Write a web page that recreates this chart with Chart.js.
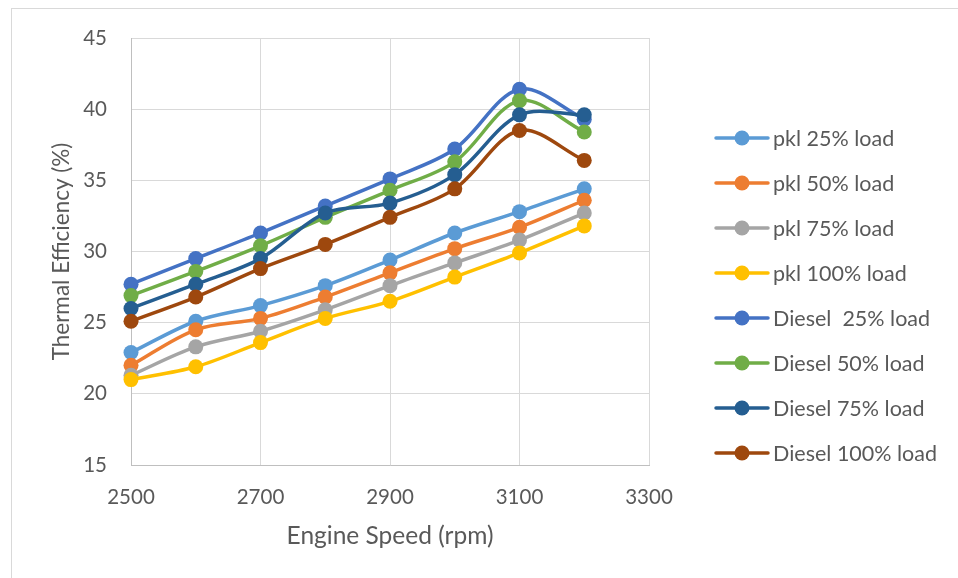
<!DOCTYPE html>
<html>
<head>
<meta charset="utf-8">
<script src="https://cdn.jsdelivr.net/npm/chart.js@4/dist/chart.umd.min.js"></script>
<style>
  body { margin: 0; background: #fff; }
  #wrap { position: relative; width: 958px; height: 578px; overflow: hidden; }
  #frame { position: absolute; left: 11px; top: 8px; width: 1000px; height: 700px; border: 1px solid #d9d9d9; }
  canvas { position: absolute; left: 0; top: 0; }
</style>
</head>
<body>
<div id="wrap">
  <div id="frame"></div>
  <canvas id="chart" width="958" height="578"></canvas>
</div>
<script>
const speeds = [2500, 2600, 2700, 2800, 2900, 3000, 3100, 3200];

const pkl25 = [22.9, 25.1, 26.2, 27.6, 29.4, 31.3, 32.8, 34.4];
const pkl50 = [22.0, 24.5, 25.3, 26.8, 28.5, 30.2, 31.7, 33.6];
const pkl75 = [21.3, 23.3, 24.4, 25.9, 27.6, 29.2, 30.8, 32.7];
const pkl100 = [21.0, 21.9, 23.6, 25.3, 26.5, 28.2, 29.9, 31.8];
const diesel25 = [27.7, 29.5, 31.3, 33.2, 35.1, 37.2, 41.4, 39.3];
const diesel50 = [26.9, 28.6, 30.4, 32.4, 34.3, 36.3, 40.6, 38.4];
const diesel75 = [26.0, 27.7, 29.5, 32.7, 33.4, 35.4, 39.6, 39.6];
const diesel100 = [25.1, 26.8, 28.8, 30.5, 32.4, 34.4, 38.5, 36.4];

const seriesNames = ['pkl 25% load', 'pkl 50% load', 'pkl 75% load', 'pkl 100% load',
  'Diesel  25% load', 'Diesel 50% load', 'Diesel 75% load', 'Diesel 100% load'];
const seriesValues = [pkl25, pkl50, pkl75, pkl100, diesel25, diesel50, diesel75, diesel100];
const colors = ['#5B9BD5', '#ED7D31', '#A5A5A5', '#FFC000', '#4472C4', '#70AD47', '#255E91', '#9E480E'];

const yTicks = [15, 20, 25, 30, 35, 40, 45];
const xTicks = [2500, 2700, 2900, 3100, 3300];

const textColor = '#595959';
const fontFamily = 'Lato, "Open Sans", sans-serif';

// legend drawn by hand so it sits where Excel put it
const sideLegend = {
  id: 'sideLegend',
  afterDraw(chart) {
    const ctx = chart.ctx;
    ctx.save();
    ctx.font = '21.5px ' + fontFamily;
    ctx.textBaseline = 'middle';
    chart.data.datasets.forEach((ds, i) => {
      const y = 138 + i * 45;
      ctx.strokeStyle = ds.borderColor;
      ctx.lineWidth = 3.5;
      ctx.lineCap = 'round';
      ctx.beginPath();
      ctx.moveTo(716, y);
      ctx.lineTo(768, y);
      ctx.stroke();
      ctx.fillStyle = ds.borderColor;
      ctx.beginPath();
      ctx.arc(742, y, 7.5, 0, Math.PI * 2);
      ctx.fill();
      ctx.fillStyle = textColor;
      ctx.fillText(ds.label, 773, y + 1);
    });
    ctx.restore();
  }
};

const datasets = seriesNames.map((name, i) => ({
  label: name,
  data: speeds.map((s, j) => ({ x: s, y: seriesValues[i][j] })),
  borderColor: colors[i],
  backgroundColor: colors[i],
  borderWidth: 3.5,
  pointRadius: 7.5,
  pointBorderWidth: 0,
  tension: 0.33,
  clip: false,
  order: seriesNames.length - i
}));

new Chart(document.getElementById('chart'), {
  type: 'line',
  data: { datasets: datasets },
  options: {
    responsive: false,
    animation: false,
    devicePixelRatio: 1,
    layout: { padding: { left: 0, top: 38, right: 309, bottom: 0 } },
    plugins: { legend: { display: false }, tooltip: { enabled: false } },
    scales: {
      x: {
        type: 'linear',
        min: 2500,
        max: 3300,
        afterBuildTicks: (scale) => { scale.ticks = xTicks.map(v => ({ value: v })); },
        afterFit: (scale) => { scale.height = 113; },
        grid: { color: '#D9D9D9', lineWidth: 1, drawTicks: false },
        border: { color: '#BFBFBF', width: 1 },
        ticks: { color: textColor, font: { family: fontFamily, size: 20.5 }, padding: 20, maxRotation: 0,
          callback: (v) => String(v) },
        title: { display: true, text: 'Engine Speed (rpm)', color: textColor,
          font: { family: fontFamily, size: 24.5 }, padding: { top: 0, bottom: 27 } }
      },
      y: {
        min: 15,
        max: 45,
        afterBuildTicks: (scale) => { scale.ticks = yTicks.map(v => ({ value: v })); },
        afterFit: (scale) => { scale.width = 131; },
        grid: { color: '#D9D9D9', lineWidth: 1, drawTicks: false },
        border: { color: '#BFBFBF', width: 1 },
        ticks: { color: textColor, font: { family: fontFamily, size: 20.5 }, padding: 24,
          callback: (v) => String(v) },
        title: { display: true, text: 'Thermal Efficiency (%)', color: textColor,
          font: { family: fontFamily, size: 22.5 }, padding: { top: 48, bottom: 0 } }
      }
    }
  },
  plugins: [sideLegend]
});
</script>
</body>
</html>
